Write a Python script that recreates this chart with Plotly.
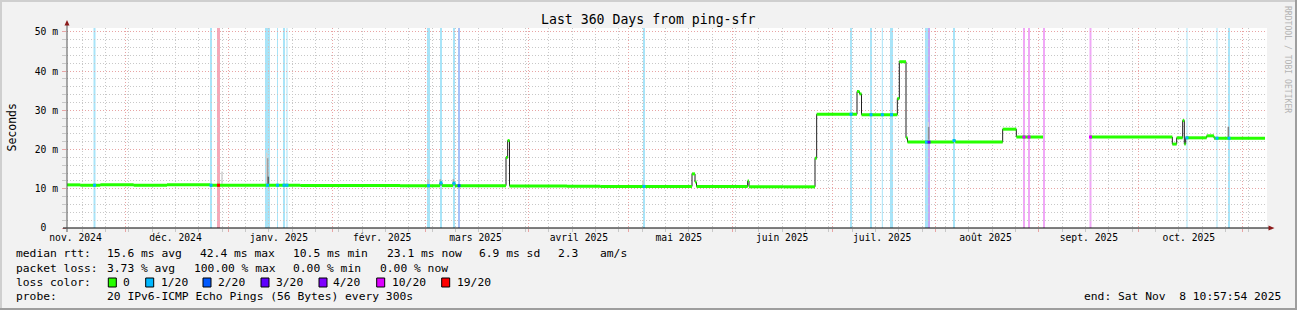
import numpy as np
import pandas as pd
import plotly.graph_objects as go

# ---------------- data ----------------
START = pd.Timestamp("2024-11-13 10:57:54")
END = pd.Timestamp("2025-11-08 10:57:54")

# median RTT breakpoints: days since START, value in ms (None = no data)
median_day = [0, 4, 10, 20, 30, 42.9, 60, 70, 99.9, 111.9, 112.5, 115.8, 116.4,
              131.7, 132.2, 132.75, 150, 160, 187.5, 188.4, 188.85, 204.2, 204.6,
              215, 224.4, 224.9, 237.0, 237.75, 238.35, 249.1, 249.7, 251.7, 252.15,
              266.0, 266.5, 280.7, 284.8, 292.8, 306.9, 331.6, 332.9, 334.7, 335.2,
              335.6, 341.9, 344.1, 359.4]
median_ms = [11.0, 10.9, 11.0, 10.9, 11.0, 10.9, 10.9, 10.85, 10.8, 11.5, 10.8, 11.4, 10.8,
             18.0, 22.3, 10.7, 10.65, 10.6, 13.8, 11.7, 10.6, 12.0, 10.55,
             10.5, 17.8, 29.0, 34.8, 34.2, 28.9, 33.0, 42.4, 23.0, 21.9,
             22.3, 21.9, 25.2, 23.2, None, 23.2, 21.4, 23.0, 27.4, 21.4,
             23.0, 23.5, 22.9, 22.9]

# packet-loss periods: centre (days since START), width (days), loss class
loss_day = [8.25, 43.2, 45.45, 60.15, 63.15, 65.1, 66.0, 108.45, 112.2, 116.1, 117.6,
            173.1, 235.2, 241.2, 244.6, 247.35, 257.85, 258.6, 266.1, 287.1, 288.6,
            293.1, 307.05, 336.0, 345.0, 348.6]
loss_width = [0.6, 0.6, 0.9, 1.5, 0.3, 0.6, 0.3, 0.9, 0.6, 0.6, 0.6,
              0.6, 0.6, 0.6, 0.3, 0.9, 0.9, 0.6, 0.6, 0.6, 0.6,
              0.6, 0.6, 0.3, 0.3, 0.6]
loss_class = ["1/20", "1/20", "19/20", "1/20", "1/20", "1/20", "1/20", "1/20", "1/20", "1/20", "2/20",
              "1/20", "1/20", "1/20", "1/20", "1/20", "1/20", "3/20", "1/20", "10/20", "10/20",
              "10/20", "10/20", "1/20", "1/20", "1/20"]

# smoke (ping spread) spikes: day, low ms, high ms, shade
smoke_day = [59.9, 60.2, 60.4, 46.5, 108.3, 112.0, 115.9, 172.8, 258.4, 258.5, 348.4]
smoke_lo = [11.0, 11.0, 11.0, 11.0, 11.0, 11.2, 11.2, 10.8, 22.0, 22.5, 23.0]
smoke_hi = [19.2, 17.8, 13.1, 14.4, 12.4, 12.5, 12.5, 12.2, 27.0, 25.8, 25.8]
smoke_shade = ["#d4d4d4", "#a0a0a0", "#606060", "#d0d0d0", "#c0c0c0", "#b0b0b0", "#b0b0b0",
               "#c8c8c8", "#d8d8d8", "#909090", "#808080"]

tick_dates = ["2024-11-16", "2024-12-16", "2025-01-16", "2025-02-16", "2025-03-16", "2025-04-16",
              "2025-05-16", "2025-06-16", "2025-07-16", "2025-08-16", "2025-09-16", "2025-10-16"]
tick_labels = ["nov. 2024", "déc. 2024", "janv. 2025", "févr. 2025", "mars 2025", "avril 2025",
               "mai 2025", "juin 2025", "juil. 2025", "août 2025", "sept. 2025", "oct. 2025"]
month_starts = ["2024-12-01", "2025-01-01", "2025-02-01", "2025-03-01", "2025-04-01", "2025-05-01",
                "2025-06-01", "2025-07-01", "2025-08-01", "2025-09-01", "2025-10-01", "2025-11-01"]

y_tick_vals = [0, 10, 20, 30, 40, 50]
y_tick_text = ["0\u00a0\u00a0", "10 m", "20 m", "30 m", "40 m", "50 m"]

loss_names = ["0", "1/20", "2/20", "3/20", "4/20", "10/20", "19/20"]
loss_colors = ["#26ff00", "#00b8ff", "#0059ff", "#5e00ff", "#7e00ff", "#dd00ff", "#ff0000"]
loss_bar_colors = ["#c8ffc0", "#a8e4f8", "#a8c2f8", "#c4aaf6", "#cca8f8", "#f0a8f6", "#f5a8b8"]

rtt_stats = ["15.6 ms avg", "42.4 ms max", "10.5 ms min", "23.1 ms now", "6.9 ms sd", "2.3", "am/s"]
loss_stats = ["3.73 % avg", "100.00 % max", "0.00 % min", "0.00 % now"]
probe_text = "20 IPv6-ICMP Echo Pings (56 Bytes) every 300s"
end_text = "end: Sat Nov\u00a0\u00a08 10:57:54 2025"
title_text = "Last 360 Days from ping-sfr"

# ---------------- layout geometry ----------------
W, H = 1297, 310
L, R, T, B = 67, 1267, 28, 228
PW, PH = R - L, B - T
FONT = "DejaVu Sans Mono"


def px(x):
    return (x - L) / PW


def py(y):
    return (B - y) / PH


def ts(d):
    return START + pd.Timedelta(days=d)


cmap = dict(zip(loss_names, loss_colors))
bmap = dict(zip(loss_names, loss_bar_colors))

fig = go.Figure()

# smoke spikes
for shade in dict.fromkeys(smoke_shade):
    xs, ys = [], []
    for d, lo, hi, s in zip(smoke_day, smoke_lo, smoke_hi, smoke_shade):
        if s == shade:
            xs += [ts(d), ts(d), None]
            ys += [lo, hi, None]
    fig.add_trace(go.Scatter(x=xs, y=ys, mode="lines", line=dict(color=shade, width=1.5),
                             hoverinfo="skip", showlegend=False))

# thin dark median line (step)
fig.add_trace(go.Scatter(x=[ts(d) for d in median_day], y=median_ms, mode="lines",
                         line=dict(color="#202020", width=1, shape="hv"),
                         connectgaps=False, hoverinfo="skip", showlegend=False))

# thick green horizontal median segments
sx, sy = [], []
for i in range(len(median_day) - 1):
    v = median_ms[i]
    if v is None:
        continue
    sx += [ts(median_day[i]), ts(median_day[i + 1]), None]
    sy += [v, v, None]
fig.add_trace(go.Scatter(x=sx, y=sy, mode="lines", line=dict(color=loss_colors[0], width=3),
                         hoverinfo="skip", showlegend=False))

# loss-coloured median points
mx, my, mc = [], [], []
for d, c in zip(loss_day, loss_class):
    idx = int(np.searchsorted(median_day, d, side="right")) - 1
    v = median_ms[idx]
    if v is None:
        continue
    mx.append(ts(d)); my.append(v); mc.append(cmap[c])
fig.add_trace(go.Scatter(x=mx, y=my, mode="markers",
                         marker=dict(symbol="square", size=3, color=mc, line=dict(width=0)),
                         hoverinfo="skip", showlegend=False))

# dummy trace for the grid axis
fig.add_trace(go.Scatter(x=[ts(median_day[0])], y=[median_ms[0]], xaxis="x2", mode="markers",
                         marker=dict(opacity=0), hoverinfo="skip", showlegend=False))

shapes = []
# loss bars
for d, w, c in zip(loss_day, loss_width, loss_class):
    shapes.append(dict(type="rect", xref="x", yref="y domain", x0=ts(d - w / 2), x1=ts(d + w / 2),
                       y0=0, y1=1, fillcolor=bmap[c], line=dict(width=0), layer="below"))

# axes lines and arrows
shapes.append(dict(type="line", xref="paper", yref="paper", x0=px(63), x1=px(1270), y0=py(228), y1=py(228),
                   line=dict(color="#000000", width=1), layer="above"))
shapes.append(dict(type="line", xref="paper", yref="paper", x0=px(67), x1=px(67), y0=py(232), y1=py(24),
                   line=dict(color="#555555", width=1), layer="above"))
shapes.append(dict(type="path", xref="paper", yref="paper",
                   path=f"M {px(67)},{py(20)} L {px(64.5)},{py(25.5)} L {px(69.5)},{py(25.5)} Z",
                   fillcolor="#8b1a1a", line=dict(width=0), layer="above"))
shapes.append(dict(type="path", xref="paper", yref="paper",
                   path=f"M {px(1274.5)},{py(228)} L {px(1268.5)},{py(225.5)} L {px(1268.5)},{py(230.5)} Z",
                   fillcolor="#8b1a1a", line=dict(width=0), layer="above"))

# frame
shapes.append(dict(type="line", xref="paper", yref="paper", x0=px(0), x1=px(W), y0=py(1), y1=py(1),
                   line=dict(color="#cfcfcf", width=2)))
shapes.append(dict(type="line", xref="paper", yref="paper", x0=px(1), x1=px(1), y0=py(0), y1=py(H),
                   line=dict(color="#cfcfcf", width=2)))
shapes.append(dict(type="line", xref="paper", yref="paper", x0=px(0), x1=px(W), y0=py(H - 1), y1=py(H - 1),
                   line=dict(color="#9e9e9e", width=2)))
shapes.append(dict(type="line", xref="paper", yref="paper", x0=px(W - 1), x1=px(W - 1), y0=py(0), y1=py(H),
                   line=dict(color="#9e9e9e", width=2)))

# legend boxes
box_x = [108.3, 145.7, 203, 261, 319, 376.7, 441.7]
lab_x = [123, 160.7, 218, 276, 333, 392, 456.7]
for bx, c in zip(box_x, loss_colors):
    shapes.append(dict(type="rect", xref="paper", yref="paper", x0=px(bx), x1=px(bx + 8),
                       y0=py(278), y1=py(287), fillcolor=c, line=dict(color="#000000", width=1)))

ann = []


def text(x, y, s, size=11.3, anchor="left", color="#000000", angle=0):
    ann.append(dict(x=px(x), y=py(y), xref="paper", yref="paper", text=s, showarrow=False,
                    xanchor=anchor, yanchor="middle", textangle=angle, borderpad=0, borderwidth=0,
                    font=dict(family=FONT, size=size, color=color)))


text((540 + 755) / 2, 19, title_text, size=13.2, anchor="center")
text(11, 127.5, "Seconds", size=11.5, anchor="center", angle=-90)
text(1288, 59, "RRDTOOL / TOBI OETIKER", size=8.1, anchor="center", color="#b4b4b4", angle=90)

text(16, 254, "median rtt:")
for x, s in zip([107, 200, 293.3, 386.7, 479.3, 558.3, 600], rtt_stats):
    text(x, 254, s)
text(16, 268, "packet loss:")
for x, s in zip([107.3, 194.3, 293.3, 380], loss_stats):
    text(x, 268, s)
text(16, 282, "loss color:")
for x, s in zip(lab_x, loss_names):
    text(x, 282, s)
text(16, 296, "probe:")
text(107.3, 296, probe_text)
text(1281, 296, end_text, anchor="right")

RED = "#e8a4a4"
GRAY = "#c8c8c8"
DOT = "1px,2px"

fig.update_layout(
    width=W, height=H, autosize=False,
    margin=dict(l=L, r=W - R, t=T, b=H - B, pad=0),
    paper_bgcolor="#f2f2f2", plot_bgcolor="#ffffff",
    showlegend=False,
    shapes=shapes, annotations=ann,
    xaxis=dict(type="date", range=[START, END], tickmode="array", tickvals=tick_dates,
               ticktext=tick_labels, showgrid=False, zeroline=False, showline=False, ticks="",
               tickfont=dict(family=FONT, size=9.7, color="#000000"), ticklabelstandoff=2,
               fixedrange=True),
    xaxis2=dict(type="date", range=[START, END], overlaying="x", anchor="y", side="bottom",
                tickmode="array", tickvals=month_starts, showticklabels=False,
                showgrid=True, gridcolor=RED, griddash=DOT, gridwidth=1,
                ticks="outside", ticklen=3, tickcolor=RED,
                minor=dict(dtick=7 * 86400000, tick0="2024-11-18", showgrid=True,
                           gridcolor=GRAY, griddash=DOT, gridwidth=1,
                           ticks="outside", ticklen=3, tickcolor=GRAY),
                zeroline=False, showline=False, fixedrange=True),
    yaxis=dict(range=[0, 51], tickmode="array", tickvals=y_tick_vals, ticktext=y_tick_text,
               showgrid=True, gridcolor=RED, griddash=DOT, gridwidth=1,
               ticks="outside", ticklen=4, tickcolor=RED,
               minor=dict(dtick=2, tick0=0, showgrid=True, gridcolor=GRAY, griddash=DOT,
                          ticks="outside", ticklen=4, tickcolor=GRAY),
               zeroline=False, showline=False,
               tickfont=dict(family=FONT, size=9.7, color="#000000"), ticklabelstandoff=2,
               fixedrange=True),
)

fig.write_html("out.html")
